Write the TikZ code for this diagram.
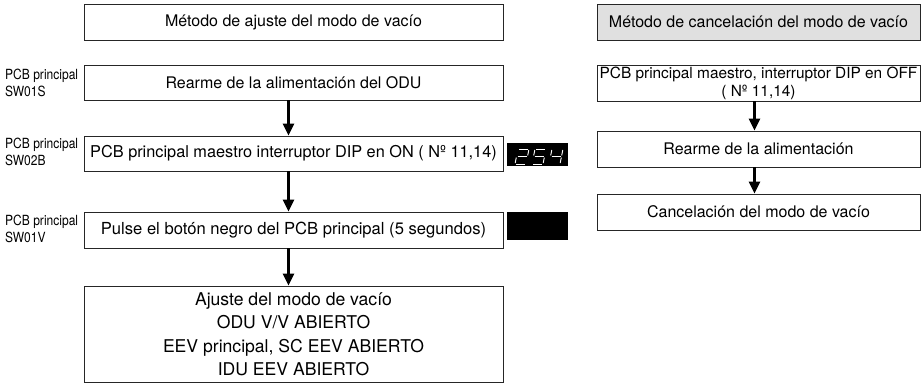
\documentclass[tikz,border=0pt]{standalone}
\usepackage{fontspec}
\setmainfont{TeX Gyre Heros}
\newfontfamily\narrowfont{TeX Gyre Heros}[FakeStretch=0.86]
\usetikzlibrary{arrows.meta}
\tikzset{
  box/.style={draw=black!85, line width=0.9pt, inner sep=0pt, align=center,
    font=\fontsize{16}{19}\selectfont},
  lbox/.style={box, minimum width=419pt},
  rbox/.style={box, minimum width=323pt},
  flow/.style={line width=2.4pt, -{Triangle[width=11pt,length=12pt]}},
  side/.style={anchor=north west, inner sep=0pt, align=left,
    font=\narrowfont\fontsize{14}{17}\selectfont},
  disp/.style={fill=black, draw=none, inner sep=0pt},
  seg/.style={draw=white, line width=0.9pt, line cap=butt}
}
\begin{document}
\begin{tikzpicture}[x=1pt,y=-1pt]
\useasboundingbox (0,0) rectangle (924,384);
% left column
\node[lbox, minimum height=36pt] (t1) at (293.5,22) {Método de ajuste del modo de vacío};
\node[lbox, minimum height=35pt] (b1) at (293.5,82.5) {Rearme de la alimentación del ODU};
\node[lbox, minimum height=35pt, font=\fontsize{16.3}{19}\selectfont] (b2) at (293.5,153.5) {PCB principal maestro interruptor DIP en ON ( Nº 11,14)};
\node[lbox, minimum height=36pt, font=\fontsize{16.6}{19}\selectfont] (b3) at (293.5,230) {Pulse el botón negro del PCB principal (5 segundos)};
\node[lbox, minimum height=96pt, font=\fontsize{17.6}{23.5}\selectfont] (b4) at (293.5,334)
  {Ajuste del modo de vacío\\ODU V/V ABIERTO\\EEV principal, SC EEV ABIERTO\\IDU EEV ABIERTO};
\draw[flow] ([xshift=-5pt]b1.south) -- ([xshift=-5pt]b2.north);
\draw[flow] ([xshift=-5pt]b2.south) -- ([xshift=-5pt]b3.north);
\draw[flow] ([xshift=-5pt]b3.south) -- ([xshift=-5pt]b4.north);
% side labels
\node[side] (l1) at (5,69) {PCB principal\\SW01S};
\node[side] (l2) at (5,138) {PCB principal\\SW02B};
\node[side] (l3) at (5,215) {PCB principal\\SW01V};
% displays
\node[disp, minimum width=61pt, minimum height=23pt] (d1) at (537.5,154.5) {};
\node[disp, minimum width=61pt, minimum height=28pt] (d2) at (537.5,226) {};
% digit 2
\begin{scope}[shift={(518,149)}, xslant=0.2]
  \draw[seg] (1,0) -- (10,0);
  \draw[seg] (11,1) -- (11,6.5);
  \draw[seg] (1,7.5) -- (10,7.5);
  \draw[seg] (0,8.5) -- (0,14);
  \draw[seg] (1,15) -- (10,15);
\end{scope}
% digit 5
\begin{scope}[shift={(535,149)}, xslant=0.2]
  \draw[seg] (1,0) -- (10,0);
  \draw[seg] (0,1) -- (0,6.5);
  \draw[seg] (1,7.5) -- (10,7.5);
  \draw[seg] (11,8.5) -- (11,14);
  \draw[seg] (1,15) -- (10,15);
\end{scope}
% digit 4
\begin{scope}[shift={(552,149)}, xslant=0.2]
  \draw[seg] (0,1) -- (0,6.5);
  \draw[seg] (11,1) -- (11,6.5);
  \draw[seg] (1,7.5) -- (10,7.5);
  \draw[seg] (11,8.5) -- (11,14);
\end{scope}
% right column
\node[rbox, minimum height=36pt, fill=black!12] (rt) at (758.5,22) {Método de cancelación del modo de vacío};
\node[rbox, minimum height=36pt, font=\fontsize{15.4}{18}\selectfont] (r1) at (758.5,83)
  {PCB principal maestro, interruptor DIP en OFF\\( Nº 11,14)};
\node[rbox, minimum height=36pt] (r2) at (758.5,149) {Rearme de la alimentación};
\node[rbox, minimum height=36pt] (r3) at (758.5,212) {Cancelación del modo de vacío};
\draw[flow] ([xshift=-4pt]r1.south) -- ([xshift=-4pt]r2.north);
\draw[flow] ([xshift=-4pt]r2.south) -- ([xshift=-4pt]r3.north);
\end{tikzpicture}
\end{document}
